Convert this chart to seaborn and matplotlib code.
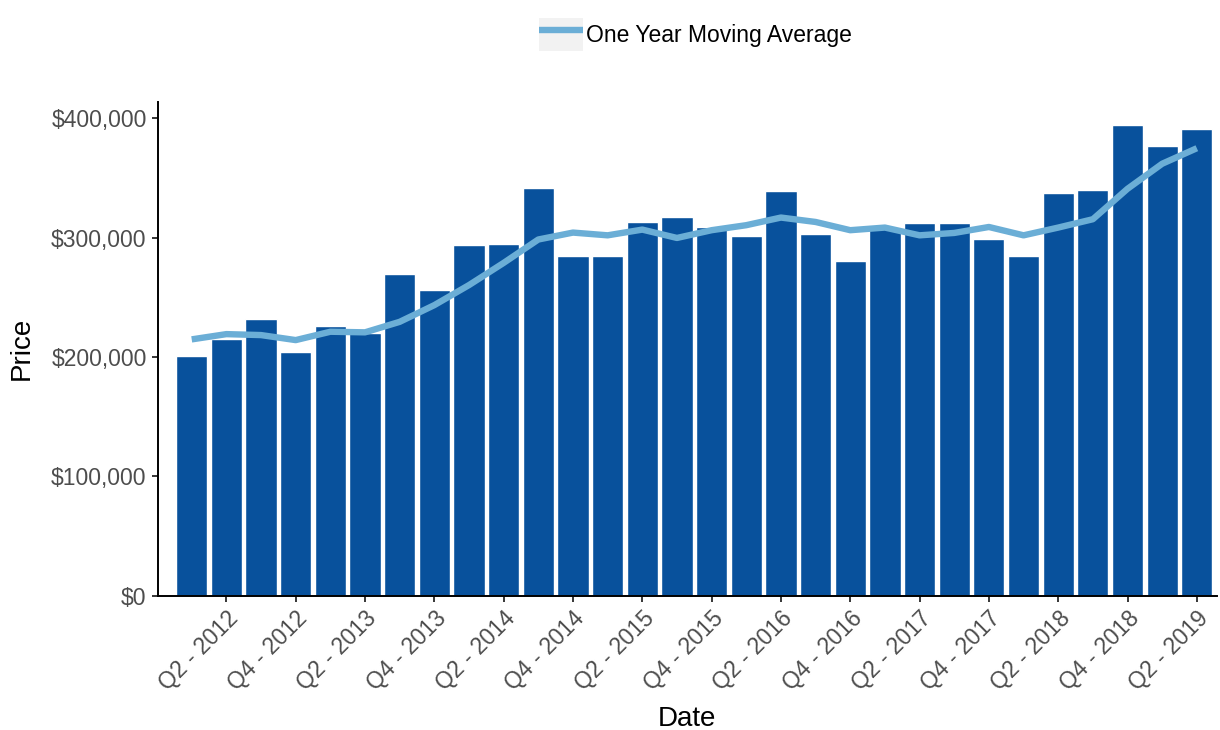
import matplotlib
matplotlib.use("Agg")
import matplotlib.pyplot as plt
import seaborn as sns
import pandas as pd
from matplotlib.patches import Rectangle
from matplotlib.lines import Line2D
from matplotlib.legend_handler import HandlerTuple
from matplotlib.ticker import FuncFormatter

quarters = [
    "Q1 - 2012", "Q2 - 2012", "Q3 - 2012", "Q4 - 2012",
    "Q1 - 2013", "Q2 - 2013", "Q3 - 2013", "Q4 - 2013",
    "Q1 - 2014", "Q2 - 2014", "Q3 - 2014", "Q4 - 2014",
    "Q1 - 2015", "Q2 - 2015", "Q3 - 2015", "Q4 - 2015",
    "Q1 - 2016", "Q2 - 2016", "Q3 - 2016", "Q4 - 2016",
    "Q1 - 2017", "Q2 - 2017", "Q3 - 2017", "Q4 - 2017",
    "Q1 - 2018", "Q2 - 2018", "Q3 - 2018", "Q4 - 2018",
    "Q1 - 2019", "Q2 - 2019",
]
prices = [
    201000, 215000, 232000, 204000, 226000, 220000, 270000, 256000,
    294000, 295000, 342000, 285000, 284500, 313000, 317500, 309000,
    301500, 339000, 302700, 280300, 308000, 312000, 312400, 299000,
    284500, 337500, 339700, 394700, 376600, 391400,
]
moving_avg = [
    214800, 219200, 218400, 214200, 221200, 220700, 229500, 243500,
    260300, 278900, 298500, 304300, 302000, 306800, 299800, 306300,
    310500, 316900, 313200, 306300, 308500, 302000, 304000, 309000,
    302000, 308500, 315500, 341000, 362000, 375000,
]
tick_labels = quarters[1::2]

BAR_COLOR = "#08519C"
LINE_COLOR = "#6BAED6"

sns.set_style("ticks")
plt.rcParams["font.family"] = ["Liberation Sans", "DejaVu Sans"]

df = pd.DataFrame({"Date": quarters, "Price": prices, "MA": moving_avg})

fig = plt.figure(figsize=(12.2, 7.3), dpi=100)
ax = fig.add_axes([0.1293, 0.184, 0.8682, 0.6767])

sns.barplot(data=df, x="Date", y="Price", color=BAR_COLOR, saturation=1,
            width=0.9, ax=ax, order=quarters)
xpos = list(range(len(quarters)))
sns.lineplot(x=xpos, y=df["MA"], color=LINE_COLOR, linewidth=4.6, ax=ax,
             sort=False, legend=False, solid_capstyle="butt",
             solid_joinstyle="round")

ax.set_xlim(-0.98, 29.58)
ax.set_ylim(0, 414000)
ax.set_yticks([0, 100000, 200000, 300000, 400000])
ax.yaxis.set_major_formatter(FuncFormatter(lambda v, p: f"${v:,.0f}"))
ax.set_xticks(xpos[1::2])
ax.set_xticklabels(tick_labels, rotation=45, ha="right", va="top",
                   rotation_mode="anchor")

ax.tick_params(axis="both", labelsize=16.5, labelcolor="#4D4D4D",
               color="black", length=4.5, width=1.1)
ax.set_xlabel("Date", fontsize=20, color="black", labelpad=8)
ax.set_ylabel("Price", fontsize=20, color="black", labelpad=12)

sns.despine(ax=ax)
for s in ["left", "bottom"]:
    ax.spines[s].set_color("black")
    ax.spines[s].set_linewidth(1.4)

key_bg = Rectangle((0, 0), 1, 1, facecolor="#F2F2F2", edgecolor="none")
key_line = Line2D([0, 1], [0, 0], color=LINE_COLOR, linewidth=4.6,
                  solid_capstyle="butt")
leg = fig.legend(handles=[(key_bg, key_line)], labels=["One Year Moving Average"],
                 handler_map={tuple: HandlerTuple(ndivide=1, pad=0)},
                 loc="center", bbox_to_anchor=(0.57, 0.953), frameon=False,
                 fontsize=16.5, handlelength=1.9, handleheight=1.85,
                 handletextpad=0.15, borderpad=0)
for t in leg.get_texts():
    t.set_color("black")

fig.savefig("out.png", dpi=100)
